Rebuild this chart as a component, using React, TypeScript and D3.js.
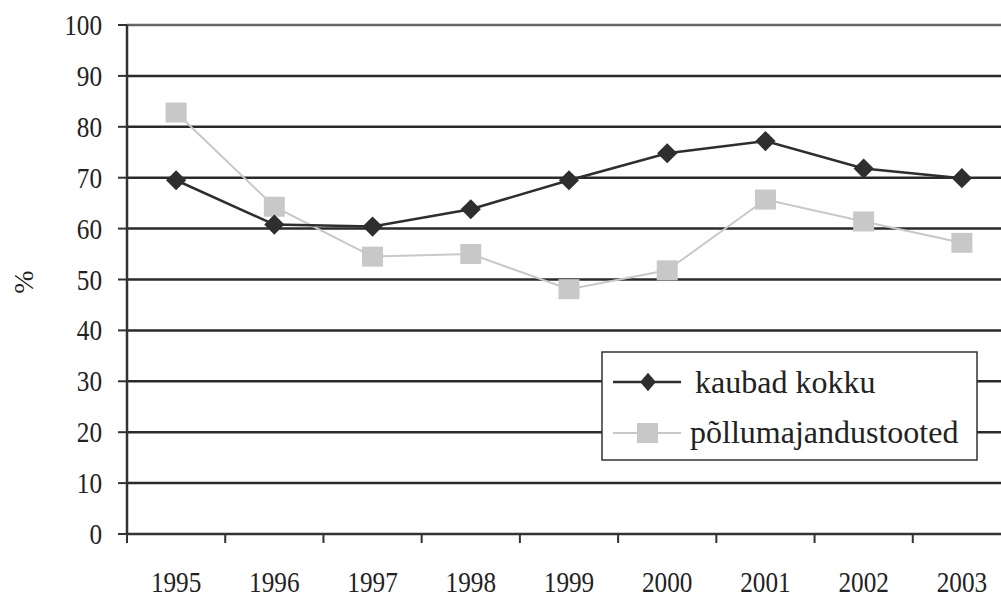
import { useEffect, useRef } from 'react'
import * as d3 from 'd3'

const years = ['1995', '1996', '1997', '1998', '1999', '2000', '2001', '2002', '2003']
const kaubadKokku = [69.5, 60.8, 60.4, 63.8, 69.5, 74.8, 77.2, 71.8, 69.9]
const pollumajandus = [82.8, 64.3, 54.5, 55, 48.1, 51.8, 65.7, 61.4, 57.2]
const yTicks = [0, 10, 20, 30, 40, 50, 60, 70, 80, 90, 100]

const W = 1001
const H = 597
const FONT = "'Liberation Serif', 'Times New Roman', serif"

const App = () => {
  const ref = useRef<SVGSVGElement>(null)

  useEffect(() => {
    const svg = d3.select(ref.current)
    svg.selectAll('*').remove()

    const x = d3.scaleBand().domain(years).range([127, 1011])
    const y = d3.scaleLinear().domain([0, 100]).range([534, 25])
    const cx = (d: string) => x(d)! + x.bandwidth() / 2

    // gridlines
    svg
      .append('g')
      .selectAll('line')
      .data(yTicks.filter((t) => t > 0))
      .enter()
      .append('line')
      .attr('x1', 127)
      .attr('x2', W)
      .attr('y1', (d) => y(d))
      .attr('y2', (d) => y(d))
      .attr('stroke', (d) => (d === 100 ? '#666' : '#2a2a2a'))
      .attr('stroke-width', 2.5)

    // y axis
    const yAxis = svg.append('g')
    yAxis
      .append('line')
      .attr('x1', 127)
      .attr('x2', 127)
      .attr('y1', y(100))
      .attr('y2', y(0))
      .attr('stroke', '#333')
      .attr('stroke-width', 2.5)
    yAxis
      .selectAll('line.tick')
      .data(yTicks)
      .enter()
      .append('line')
      .attr('class', 'tick')
      .attr('x1', 118)
      .attr('x2', 127)
      .attr('y1', (d) => y(d))
      .attr('y2', (d) => y(d))
      .attr('stroke', '#333')
      .attr('stroke-width', 2)
    // scanned labels are a bit taller than wide
    yAxis
      .selectAll('text')
      .data(yTicks)
      .enter()
      .append('text')
      .attr('transform', (d) => `translate(102,${y(d) + 10}) scale(0.87,1)`)
      .attr('text-anchor', 'end')
      .style('font-family', FONT)
      .style('font-size', '29px')
      .attr('fill', '#222')
      .text((d) => d)

    // x axis
    const xAxis = svg.append('g')
    xAxis
      .append('line')
      .attr('x1', 127)
      .attr('x2', W)
      .attr('y1', y(0))
      .attr('y2', y(0))
      .attr('stroke', '#333')
      .attr('stroke-width', 2.5)
    xAxis
      .selectAll('line.tick')
      .data(years)
      .enter()
      .append('line')
      .attr('class', 'tick')
      .attr('x1', (d) => x(d)!)
      .attr('x2', (d) => x(d)!)
      .attr('y1', y(0))
      .attr('y2', y(0) + 9)
      .attr('stroke', '#333')
      .attr('stroke-width', 2)
    xAxis
      .selectAll('text')
      .data(years)
      .enter()
      .append('text')
      .attr('transform', (d) => `translate(${cx(d)},592) scale(0.87,1)`)
      .attr('text-anchor', 'middle')
      .style('font-family', FONT)
      .style('font-size', '29px')
      .attr('fill', '#222')
      .text((d) => d)

    svg
      .append('text')
      .attr('transform', 'translate(33,282) rotate(-90)')
      .attr('text-anchor', 'middle')
      .style('font-family', FONT)
      .style('font-size', '28px')
      .attr('fill', '#222')
      .text('%')

    const line = d3
      .line<number>()
      .x((d, i) => cx(years[i]))
      .y((d) => y(d))

    // light series
    svg
      .append('path')
      .datum(pollumajandus)
      .attr('d', line)
      .attr('fill', 'none')
      .attr('stroke', '#c8c8c8')
      .attr('stroke-width', 2)
    svg
      .append('g')
      .selectAll('rect')
      .data(pollumajandus)
      .enter()
      .append('rect')
      .attr('x', (d, i) => cx(years[i]) - 10.5)
      .attr('y', (d) => y(d) - 10)
      .attr('width', 21)
      .attr('height', 20)
      .attr('fill', '#c8c8c8')

    // dark series
    svg
      .append('path')
      .datum(kaubadKokku)
      .attr('d', line)
      .attr('fill', 'none')
      .attr('stroke', '#2e2e2e')
      .attr('stroke-width', 2.5)
    const diamond = d3.symbol().type(d3.symbolDiamond2).size(260)
    svg
      .append('g')
      .selectAll('path')
      .data(kaubadKokku)
      .enter()
      .append('path')
      .attr('transform', (d, i) => `translate(${cx(years[i])},${y(d)})`)
      .attr('d', diamond)
      .attr('fill', '#2e2e2e')

    // legend
    const lg = svg.append('g').attr('transform', 'translate(602,352)')
    lg.append('rect')
      .attr('width', 375)
      .attr('height', 108)
      .attr('fill', '#fff')
      .attr('stroke', '#333')
      .attr('stroke-width', 1.5)
    lg.append('line')
      .attr('x1', 11)
      .attr('x2', 79)
      .attr('y1', 30)
      .attr('y2', 30)
      .attr('stroke', '#2e2e2e')
      .attr('stroke-width', 2.5)
    lg.append('path')
      .attr('transform', 'translate(46,30) scale(0.85,1)')
      .attr('d', d3.symbol().type(d3.symbolDiamond2).size(220))
      .attr('fill', '#2e2e2e')
    lg.append('line')
      .attr('x1', 11)
      .attr('x2', 79)
      .attr('y1', 81)
      .attr('y2', 81)
      .attr('stroke', '#c8c8c8')
      .attr('stroke-width', 2)
    lg.append('rect')
      .attr('x', 35)
      .attr('y', 71)
      .attr('width', 21)
      .attr('height', 20)
      .attr('fill', '#c8c8c8')
    lg.append('text')
      .attr('x', 93)
      .attr('y', 41)
      .style('font-family', FONT)
      .style('font-size', '32px')
      .attr('fill', '#222')
      .text('kaubad kokku')
    lg.append('text')
      .attr('x', 88)
      .attr('y', 91)
      .style('font-family', FONT)
      .style('font-size', '32px')
      .attr('fill', '#222')
      .text('põllumajandustooted')
  }, [])

  return (
    <svg
      ref={ref}
      width={W}
      height={H}
      style={{ position: 'absolute', left: 0, top: 0, background: '#fff' }}
    />
  )
}

export default App
